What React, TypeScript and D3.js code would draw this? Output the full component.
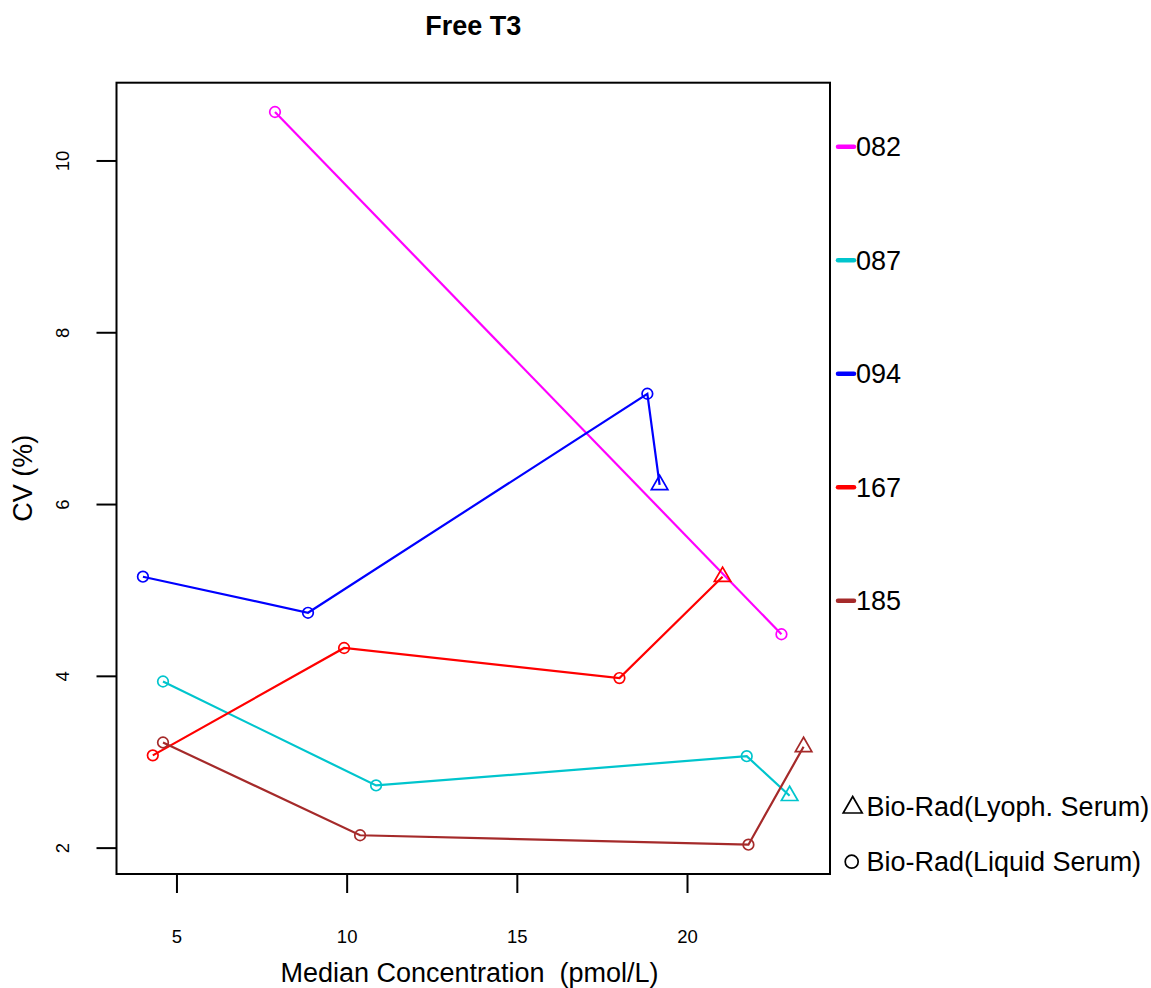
import React from "react";
import * as d3 from "d3";

const labs = ["082", "087", "094", "167", "185"];
const labColors = ["#FF00FF", "#00C5CD", "#0000FF", "#FF0000", "#A52A2A"];

// x = median concentration (pmol/L), y = CV (%), shape: "c" liquid serum, "t" lyoph. serum
const x082 = [7.88, 22.76];
const y082 = [10.57, 4.49];
const s082 = ["c", "c"];

const x087 = [4.59, 10.85, 21.74, 23.0];
const y087 = [3.94, 2.73, 3.07, 2.61];
const s087 = ["c", "c", "c", "t"];

const x094 = [4.0, 8.85, 18.82, 19.18];
const y094 = [5.16, 4.74, 7.29, 6.23];
const s094 = ["c", "c", "c", "t"];

const x167 = [4.29, 9.91, 18.0, 21.03];
const y167 = [3.08, 4.33, 3.98, 5.16];
const s167 = ["c", "c", "c", "t"];

const x185 = [4.59, 10.38, 21.79, 23.41];
const y185 = [3.23, 2.15, 2.04, 3.18];
const s185 = ["c", "c", "c", "t"];

const xTicks = [5, 10, 15, 20];
const yTicks = [2, 4, 6, 8, 10];

const title = "Free T3";
const xTitle = "Median Concentration  (pmol/L)";
const yTitle = "CV (%)";
const shapeLegend = ["Bio-Rad(Lyoph. Serum)", "Bio-Rad(Liquid Serum)"];

const seriesX = [x082, x087, x094, x167, x185];
const seriesY = [y082, y087, y094, y167, y185];
const seriesS = [s082, s087, s094, s167, s185];

const W = 1151;
const H = 988;
const L = 116.5, R = 830, T = 82.7, B = 874;
const FONT = "'Liberation Sans', Arial, Helvetica, sans-serif";
const BIG = 27;

function pad(ext: [number, number]): [number, number] {
  const r = ext[1] - ext[0];
  return [ext[0] - 0.04 * r, ext[1] + 0.04 * r];
}

function triPath(cx: number, cy: number, side: number) {
  const r = side / Math.sqrt(3);
  const h = side / 2;
  return `M${cx},${cy - r}L${cx + h},${cy + r / 2}L${cx - h},${cy + r / 2}Z`;
}

export default function App() {
  const allX = seriesX.flat();
  const allY = seriesY.flat();
  const x = d3.scaleLinear().domain(pad(d3.extent(allX) as [number, number])).range([L, R]);
  const y = d3.scaleLinear().domain(pad(d3.extent(allY) as [number, number])).range([B, T]);
  const line = d3.line<[number, number]>().x((d) => x(d[0])).y((d) => y(d[1]));

  const legendY = labs.map((_, i) => 146.7 + i * 113.5);

  return (
    <svg
      width={W}
      height={H}
      style={{ position: "absolute", left: 0, top: 0, background: "#fff" }}
      fontFamily={FONT}
    >
      <rect x={0} y={0} width={W} height={H} fill="#fff" />
      <text x={(L + R) / 2} y={35} textAnchor="middle" fontWeight="bold" fontSize={BIG}>
        {title}
      </text>

      {seriesX.map((xs, i) => {
        const pts = xs.map((v, j) => [v, seriesY[i][j]] as [number, number]);
        return (
          <g key={labs[i]} stroke={labColors[i]} fill="none" strokeWidth={2.2}>
            <path d={line(pts) || ""} />
            {pts.map((p, j) =>
              seriesS[i][j] === "c" ? (
                <circle key={j} cx={x(p[0])} cy={y(p[1])} r={5.3} strokeWidth={1.7} />
              ) : (
                <path key={j} d={triPath(x(p[0]), y(p[1]), 16.5)} strokeWidth={1.7} />
              )
            )}
          </g>
        );
      })}

      <rect x={L} y={T} width={R - L} height={B - T} fill="none" stroke="#000" strokeWidth={2} />

      {xTicks.map((t) => (
        <g key={t}>
          <line x1={x(t)} x2={x(t)} y1={B} y2={B + 19} stroke="#000" strokeWidth={2} />
          <text x={x(t)} y={937} dy="0.35em" textAnchor="middle" fontSize={18.5}>
            {t}
          </text>
        </g>
      ))}
      {yTicks.map((t) => (
        <g key={t}>
          <line x1={L - 20} x2={L} y1={y(t)} y2={y(t)} stroke="#000" strokeWidth={2} />
          <text
            transform={`translate(63,${y(t)}) rotate(-90)`}
            dy="0.35em"
            textAnchor="middle"
            fontSize={18.5}
          >
            {t}
          </text>
        </g>
      ))}

      <text
        x={469.5}
        y={973}
        dy="0.35em"
        textAnchor="middle"
        fontSize={BIG}
        style={{ whiteSpace: "pre" }}
      >
        {xTitle}
      </text>
      <text transform={`translate(23,${(T + B) / 2}) rotate(-90)`} dy="0.35em" textAnchor="middle" fontSize={BIG}>
        {yTitle}
      </text>

      {labs.map((lab, i) => (
        <g key={lab}>
          <line
            x1={838}
            x2={854}
            y1={legendY[i]}
            y2={legendY[i]}
            stroke={labColors[i]}
            strokeWidth={4.5}
            strokeLinecap="round"
          />
          <text x={856} y={legendY[i]} dy="0.35em" fontSize={BIG}>
            {lab}
          </text>
        </g>
      ))}

      <path d={triPath(852.7, 807.5, 19)} fill="none" stroke="#000" strokeWidth={1.7} />
      <text x={866.5} y={806.7} dy="0.35em" fontSize={BIG}>
        {shapeLegend[0]}
      </text>
      <circle cx={851.7} cy={861.7} r={6.5} fill="none" stroke="#000" strokeWidth={1.7} />
      <text x={866.5} y={861.7} dy="0.35em" fontSize={BIG}>
        {shapeLegend[1]}
      </text>
    </svg>
  );
}
